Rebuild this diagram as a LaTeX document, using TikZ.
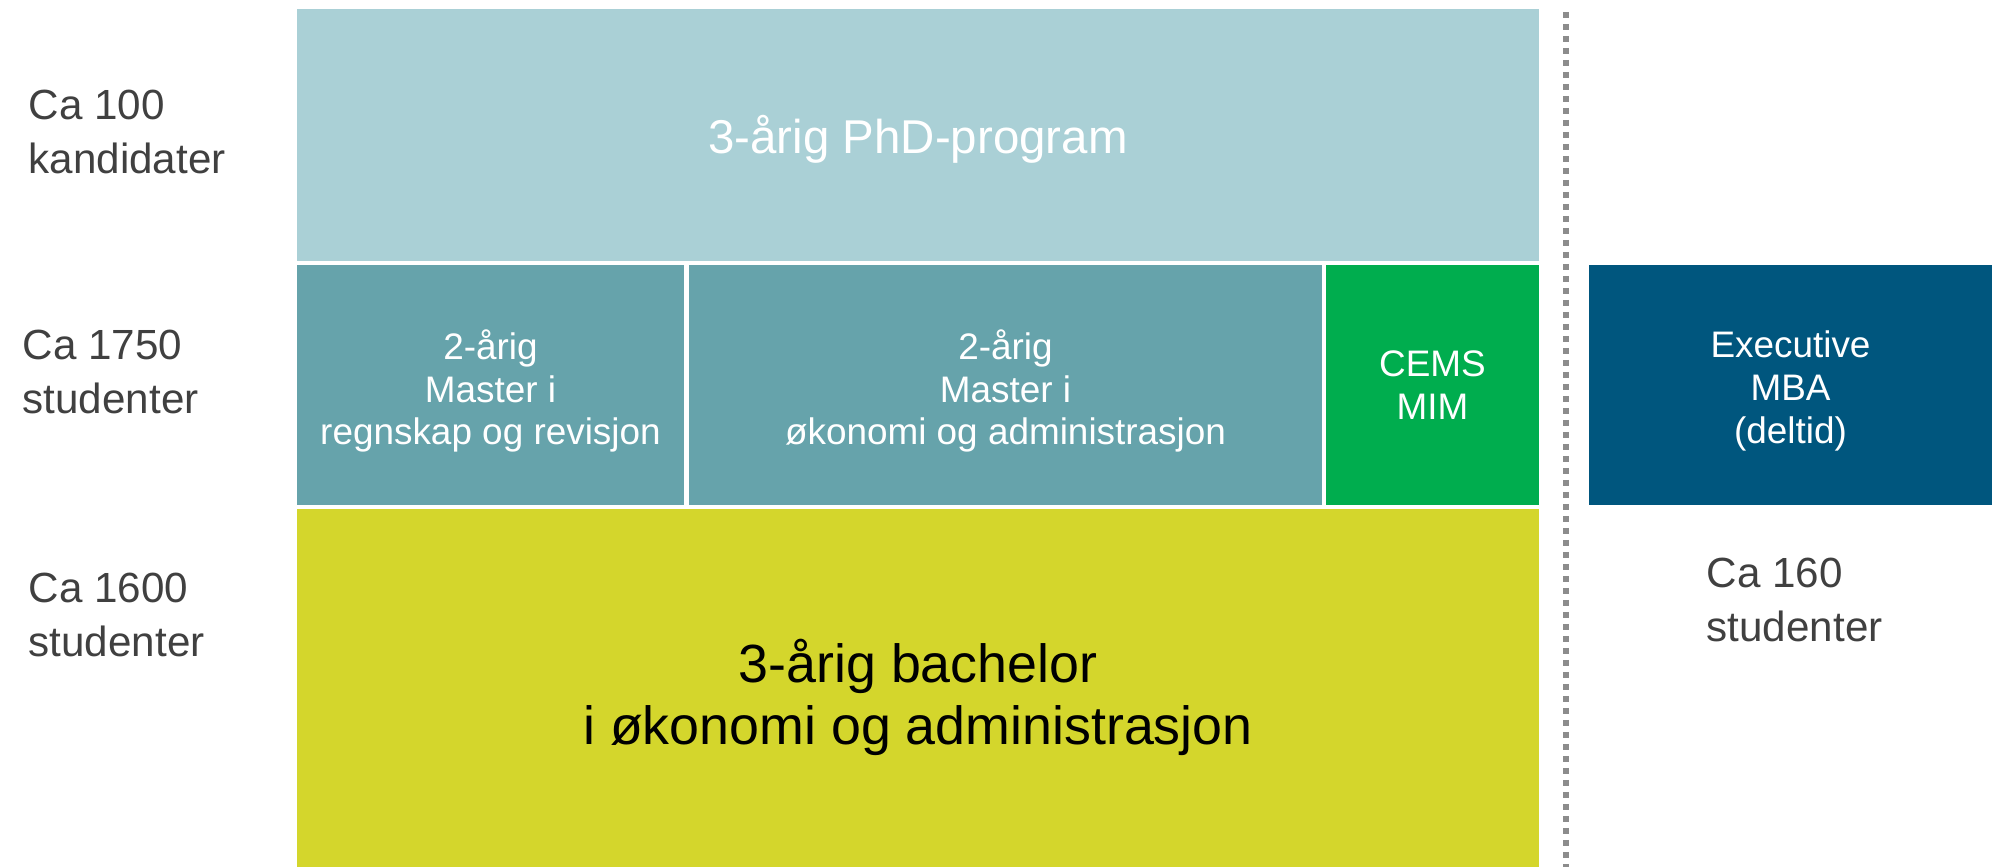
\documentclass[tikz,border=0pt]{standalone}
\usepackage{fontspec}
\setmainfont{Liberation Sans}
\usetikzlibrary{positioning}
\definecolor{phdblue}{HTML}{AAD0D6}
\definecolor{masterteal}{HTML}{66A3AB}
\definecolor{cemsgreen}{HTML}{00AD4E}
\definecolor{mbablue}{HTML}{00567E}
\definecolor{bachyellow}{HTML}{D4D62C}
\definecolor{labelgray}{HTML}{404040}
\definecolor{dotgray}{HTML}{8C8C8C}
\tikzstyle{block} = [rectangle, inner sep=0pt, outer sep=0pt, align=center, text=white, minimum height=2.4cm, font=\fontsize{10.5}{12.2}\selectfont]
\tikzstyle{count} = [anchor=west, align=left, inner sep=0pt, text=labelgray, font=\fontsize{12}{15.5}\selectfont]
\tikzstyle{divider} = [draw=dotgray, line width=0.06cm, dash pattern=on 0.06cm off 0.06cm]
% first line raised box: pushes the text block down a little
\newcommand{\sinkline}[2]{\raisebox{#1}{\vphantom{#2}}#2}

\begin{document}
\begin{tikzpicture}
    \useasboundingbox (0,0) rectangle (19.92,-8.67);
    \node[block, anchor=north west, fill=phdblue, minimum width=12.42cm, minimum height=2.52cm, font=\fontsize{13.5}{16}\selectfont] (PHD) at (2.97,-0.09) {\sinkline{0.08cm}{3-årig PhD-program}};
    \node[block, anchor=north west, fill=masterteal, minimum width=3.87cm] (MRR) at (2.97,-2.65) {\sinkline{0.12cm}{2-årig}\\Master i\\regnskap og revisjon};
    \node[block, right=0.05cm of MRR, fill=masterteal, minimum width=6.33cm] (MOA) {\sinkline{0.12cm}{2-årig}\\Master i\\økonomi og administrasjon};
    \node[block, right=0.04cm of MOA, fill=cemsgreen, minimum width=2.13cm] (CEMS) {CEMS\\MIM};
    \node[block, anchor=north west, fill=mbablue, minimum width=4.03cm] (EMBA) at (15.89,-2.65) {\sinkline{0.12cm}{Executive}\\MBA\\(deltid)};
    \node[block, anchor=north west, fill=bachyellow, minimum width=12.42cm, minimum height=3.58cm, text=black, font=\fontsize{15.3}{17.6}\selectfont] (BACH) at (2.97,-5.09) {\sinkline{0.19cm}{3-årig bachelor}\\i økonomi og administrasjon};
    % antall
    \node[count] (NPHD) at (0.28,-1.32) {Ca 100\\kandidater};
    \node[count] (NMAS) at (0.22,-3.72) {Ca 1750\\studenter};
    \node[count] (NBACH) at (0.28,-6.15) {Ca 1600\\studenter};
    \node[count] (NEMBA) at (17.06,-6.00) {Ca 160\\studenter};
    % skillelinje
    \coordinate (DTOP) at (15.66,-0.12);
    \coordinate (DBOT) at (15.66,-8.67);
    \draw[divider] (DTOP) -- (DBOT);
\end{tikzpicture}
\end{document}
